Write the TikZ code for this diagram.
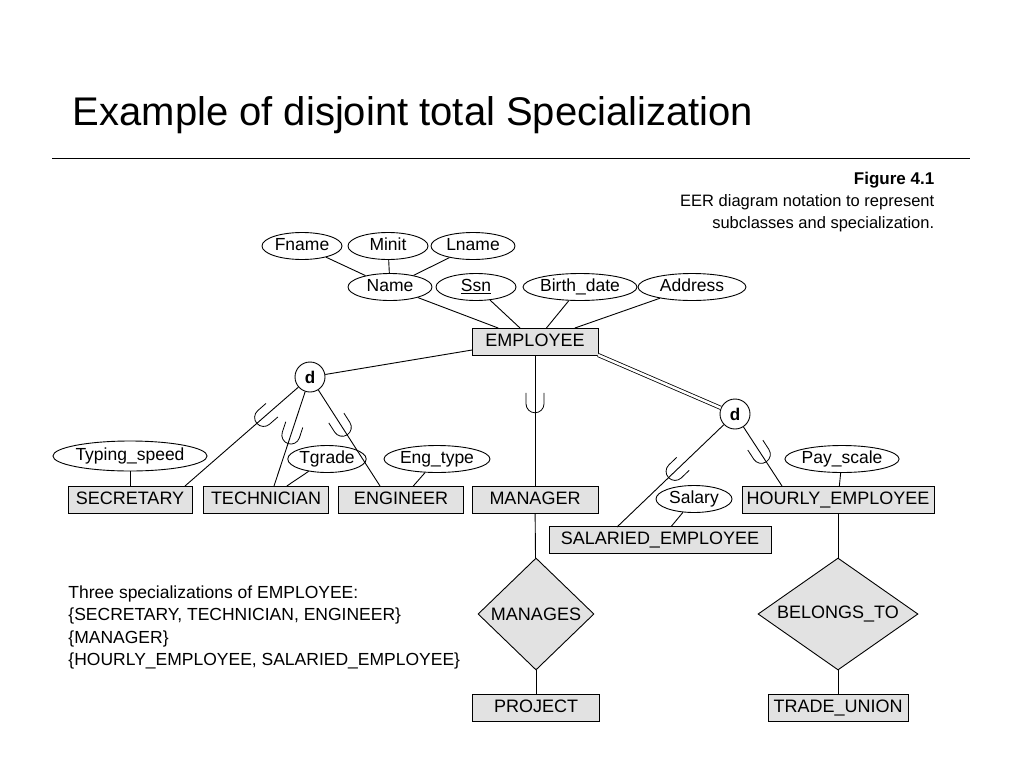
\documentclass[tikz,border=0pt]{standalone}
\usepackage{fontspec}
\setmainfont{Liberation Sans}
\usetikzlibrary{shapes.geometric,decorations.markings}
\definecolor{boxgray}{RGB}{226,226,226}
\begin{document}
\begin{tikzpicture}[x=1pt,y=-1pt,
  ent/.style={draw,fill=boxgray,minimum width=126pt,minimum height=27pt,inner sep=1pt,text height=12pt,text depth=3.5pt,font=\fontsize{18}{20}\selectfont},
  att/.style={draw,ellipse,minimum height=27pt,inner sep=0pt,text height=12pt,text depth=3.5pt,font=\fontsize{17.5}{20}\selectfont},
  rel/.style={draw,diamond,fill=boxgray,inner sep=0pt,label={[font=\fontsize{18}{20}\selectfont]center:#1}},
  dnode/.style={draw,circle,fill=white,minimum size=30pt,inner sep=0pt,font=\bfseries\fontsize{17}{18}\selectfont},
  sub/.style={postaction={decorate},decoration={markings,mark=at position #1 with {\draw[line width=0.8pt] (-10,9) -- (1,9) arc (90:-90:9) -- (-10,-9);}}},
  every path/.style={line width=0.9pt}]
\useasboundingbox (0,0) rectangle (1024,768);
\node[anchor=base west,font=\fontsize{40}{46}\selectfont] (title) at (69,125) {Example of disjoint total Specialization};
\draw (52,158) coordinate (l1) -- (970,158) coordinate (l2);
\node[anchor=base east,font=\bfseries\fontsize{17}{20}\selectfont] (fig) at (938,184) {Figure 4.1};
\node[anchor=base east,font=\fontsize{16.5}{20}\selectfont] (cap1) at (938,206) {EER diagram notation to represent};
\node[anchor=base east,font=\fontsize{16.5}{20}\selectfont] (cap2) at (938,228) {subclasses and specialization.};

\node[ent] (emp) at (535,342) {EMPLOYEE};
\node[ent,minimum width=124pt] (sec) at (130,500) {SECRETARY};
\node[ent,minimum width=125pt] (tech) at (266,500) {TECHNICIAN};
\node[ent,minimum width=125pt] (eng) at (401,500) {ENGINEER};
\node[ent] (mgr) at (535,500) {MANAGER};
\node[ent,minimum width=192pt] (hourly) at (838,500) {HOURLY\_EMPLOYEE};
\node[ent,minimum width=222pt] (sal) at (660,540) {SALARIED\_EMPLOYEE};
\node[ent,minimum width=127pt] (proj) at (536,708) {PROJECT};
\node[ent,minimum width=140pt] (tu) at (838,708) {TRADE\_UNION};
\node[rel=MANAGES,minimum width=116pt,minimum height=112pt] (manages) at (536,614) {};
\node[rel=BELONGS\_TO,minimum width=160pt,minimum height=112pt] (belongs) at (838,614) {};

\node[att,minimum width=80pt] (fname) at (302,246) {Fname};
\node[att,minimum width=80pt] (minit) at (388,246) {Minit};
\node[att,minimum width=84pt] (lname) at (473,246) {Lname};
\node[att,minimum width=84pt] (name) at (390,287) {Name};
\node[att,minimum width=80pt] (ssn) at (476,287) {\underline{Ssn}};
\node[att,minimum width=114pt] (bdate) at (580,287) {Birth\_date};
\node[att,minimum width=108pt] (addr) at (692,287) {Address};
\node[att,minimum width=120pt,minimum height=30pt] (typing) at (130,456) {Typing\_speed};
\node[att,minimum width=76pt] (tgrade) at (327,459) {Tgrade};
\node[att,minimum width=106pt] (engtype) at (437,459) {Eng\_type};
\node[att,minimum width=76pt] (salary) at (694,499) {Salary};
\node[att,minimum width=104pt] (pay) at (842,459) {Pay\_scale};

\node[dnode] (d1) at (310,377) {d};
\node[dnode] (d2) at (735,414) {d};

\draw (fname) -- (name); \draw (minit) -- (name); \draw (lname) -- (name);
\draw (name) -- (emp); \draw (ssn) -- (emp); \draw (bdate) -- (emp); \draw (addr) -- (emp);
\draw (typing) -- (sec); \draw (tgrade) -- (tech); \draw (engtype) -- (eng);
\draw (salary) -- (sal); \draw (pay) -- (hourly);

\coordinate (e1) at (472,350);
\draw (d1) -- (e1);
\coordinate (s1) at (185,486);
\coordinate (t1) at (274,486);
\coordinate (g1) at (380,486);
\draw[sub=0.3] (d1) -- (s1);
\draw[sub=0.45] (d1) -- (t1);
\draw[sub=0.38] (d1) -- (g1);
\draw[sub=0.36] (emp) -- (mgr);
\coordinate (e2) at (598,355);
\draw[double,double distance=2.5pt,line width=0.8pt] (e2) -- (d2);
\coordinate (sa1) at (617,527);
\coordinate (h1) at (782,486);
\draw[sub=0.45] (d2) -- (sa1);
\draw[sub=0.45] (d2) -- (h1);
\draw (mgr) -- (manages); \draw (manages) -- (proj);
\draw (hourly) -- (belongs); \draw (belongs) -- (tu);

\node[anchor=north west,align=left,inner sep=0pt,font=\fontsize{17.5}{22.6}\selectfont] (three) at (68,585)
 {Three specializations of EMPLOYEE:\\\{SECRETARY, TECHNICIAN, ENGINEER\}\\\{MANAGER\}\\\{HOURLY\_EMPLOYEE, SALARIED\_EMPLOYEE\}};
\end{tikzpicture}
\end{document}
